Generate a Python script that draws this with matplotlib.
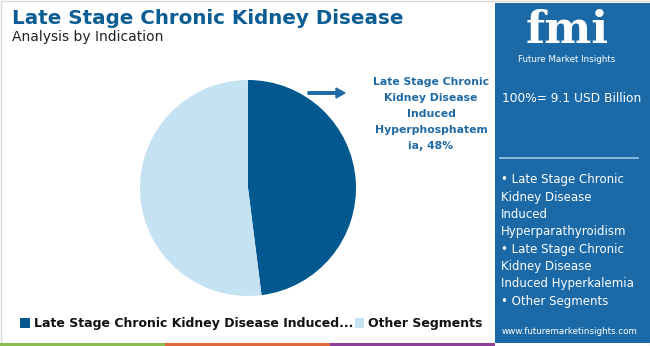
import matplotlib
matplotlib.use("Agg")
import matplotlib.pyplot as plt
from matplotlib.patches import Rectangle, FancyArrow

categories = ["Late Stage Chronic Kidney Disease Induced Hyperphosphatemia", "Other Segments"]
values = [48, 52]
legend_labels = ["Late Stage Chronic Kidney Disease Induced...", "Other Segments"]
colors = ["#03598f", "#c5e2f2"]
title = "Late Stage Chronic Kidney Disease"
subtitle = "Analysis by Indication"
total_text = "100%= 9.1 USD Billion"
panel_lines = ["• Late Stage Chronic", "Kidney Disease", "Induced", "Hyperparathyroidism",
               "• Late Stage Chronic", "Kidney Disease", "Induced Hyperkalemia", "• Other Segments"]
slice_label = "Late Stage Chronic\nKidney Disease\nInduced\nHyperphosphatem\nia, 48%"

W, H = 650, 346
fig = plt.figure(figsize=(W / 100, H / 100), dpi=100)
bg = fig.add_axes([0, 0, 1, 1])
bg.set_xlim(0, W)
bg.set_ylim(H, 0)
bg.axis("off")

# border
bg.add_patch(Rectangle((0.5, 0.5), W - 1, H - 1, fill=False, ec="#d9d9d9", lw=1))
# bottom stripes
for i, c in enumerate(["#8cbd4f", "#e0683a", "#8e3f97"]):
    bg.add_patch(Rectangle((i * 165, 342.5), 165, 4, color=c, lw=0))

# right panel
panel_c = "#1b69a6"
bg.add_patch(Rectangle((495, 3), 155, 340, color=panel_c, lw=0))
bg.text(567, 52, "fmi", color="white", fontsize=32, fontweight="bold", ha="center", va="bottom",
        family="DejaVu Serif")
bg.text(567, 60, "Future Market Insights", color="white", fontsize=6.3, ha="center", va="center")
bg.text(502, 99, total_text, color="white", fontsize=8.8, ha="left", va="center")
bg.plot([500, 638], [158, 158], color="#9cc7e6", lw=1.2)
for i, line in enumerate(panel_lines):
    bg.text(501, 180 + i * 17.3, line, color="white", fontsize=8.5, ha="left", va="center")
bg.text(570, 331, "www.futuremarketinsights.com", color="white", fontsize=6.3, ha="center", va="center")

# title
bg.text(12, 18, title, color="#0b5d94", fontsize=14.3, fontweight="bold", ha="left", va="center")
bg.text(12, 37, subtitle, color="#222222", fontsize=10, ha="left", va="center")

# pie
cx, cy, r = 248, 188, 108
pax = fig.add_axes([(cx - r) / W, (H - cy - r) / H, 2 * r / W, 2 * r / H])
pax.pie(values, colors=colors, startangle=90, counterclock=False, radius=1,
        wedgeprops=dict(linewidth=0))
pax.set_xlim(-1, 1)
pax.set_ylim(-1, 1)
pax.axis("off")

# arrow and label
bg.add_patch(FancyArrow(308, 93, 28, 0, width=2.5, head_width=10, head_length=9,
                        color="#1f6aa5", length_includes_head=False))
bg.text(431, 114, slice_label, color="#1f6aa5", fontsize=7.8, fontweight="bold",
        ha="center", va="center", linespacing=1.75)

# legend
bg.add_patch(Rectangle((20, 318), 10, 10, color=colors[0], lw=0))
bg.text(34, 323, legend_labels[0], color="#111111", fontsize=9.0, fontweight="bold", ha="left", va="center")
bg.add_patch(Rectangle((355, 318), 9, 10, color=colors[1], lw=0))
bg.text(368, 323, legend_labels[1], color="#111111", fontsize=9.0, fontweight="bold", ha="left", va="center")

fig.savefig("out.png", dpi=100)
